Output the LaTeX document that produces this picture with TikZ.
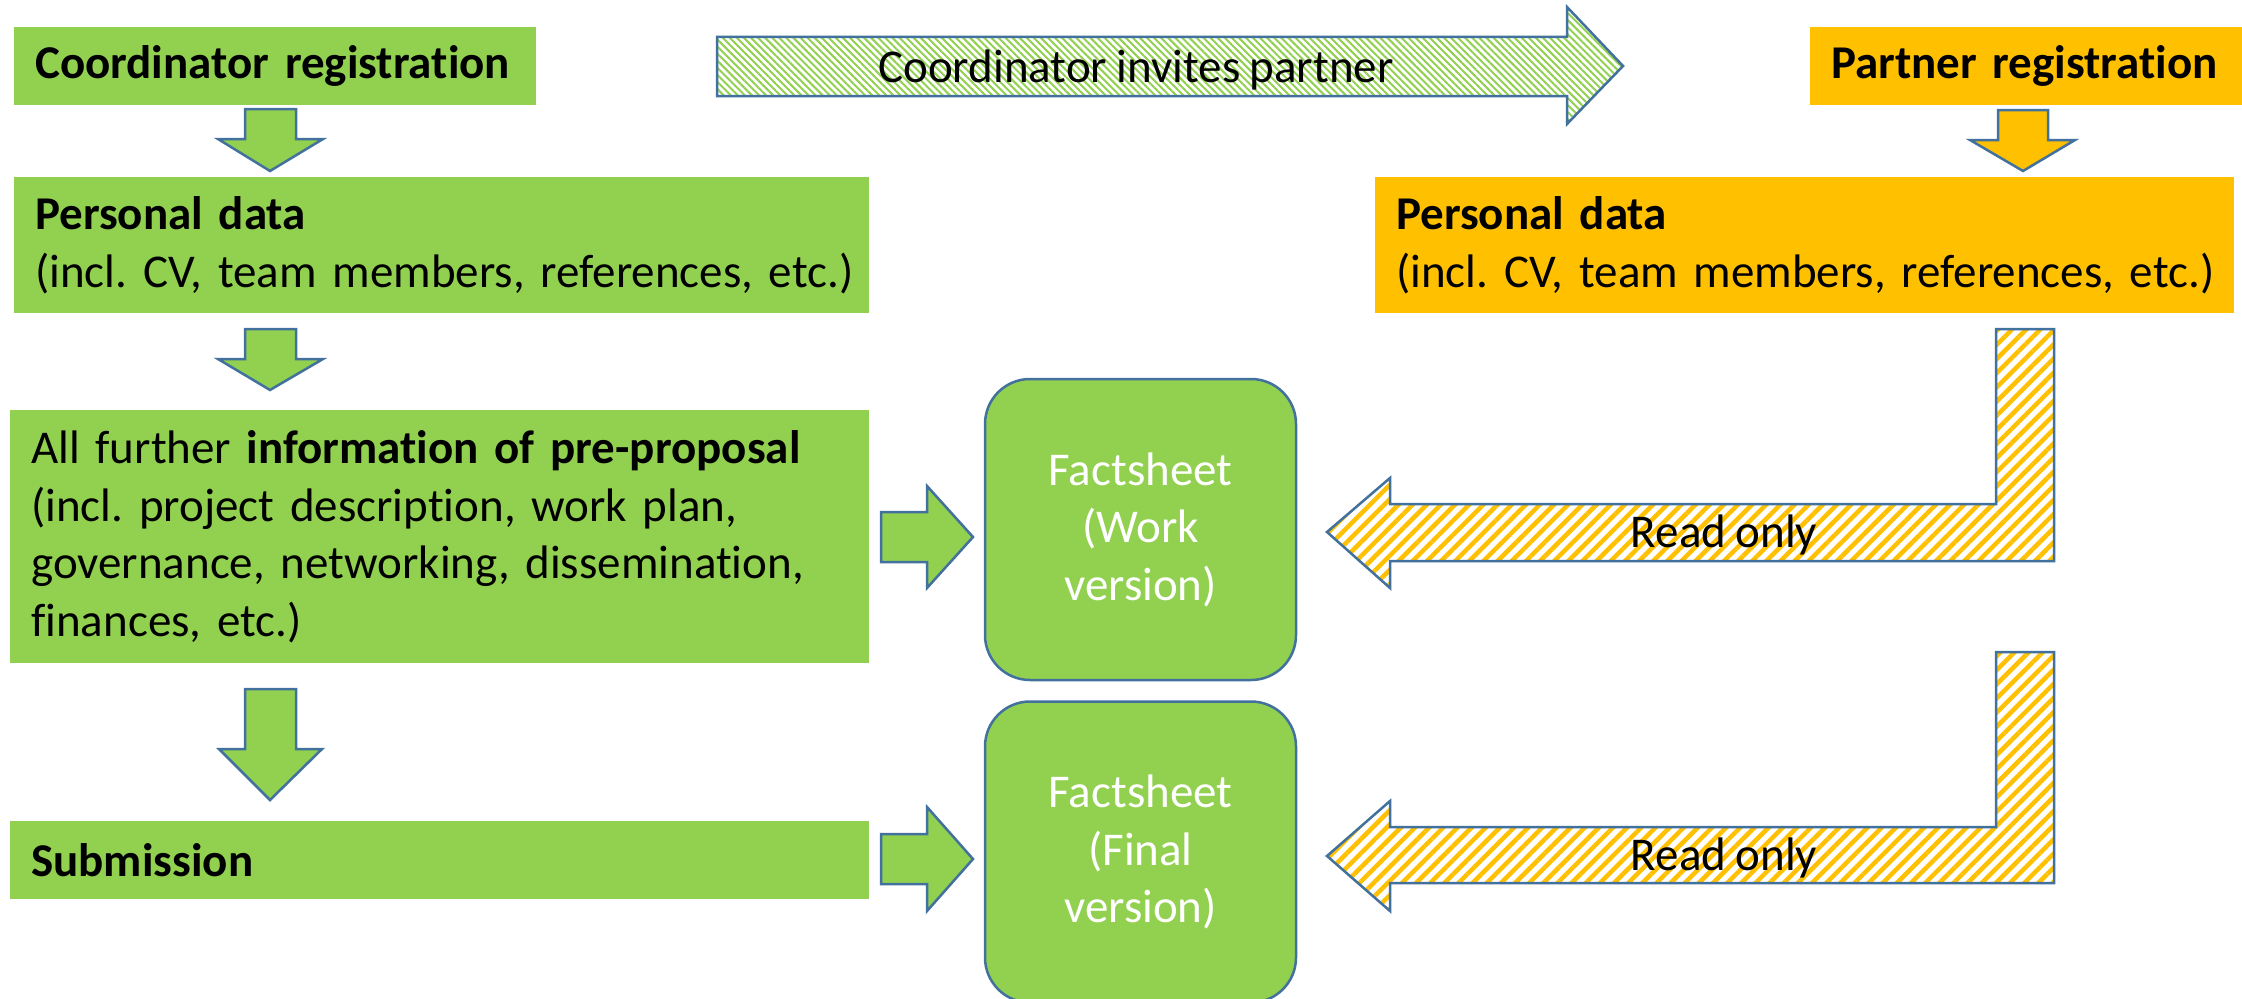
\documentclass[tikz,border=0pt]{standalone}
\usepackage{fontspec}
\setmainfont{Carlito}[Ligatures=NoCommon]
\frenchspacing
\usetikzlibrary{patterns.meta}
\definecolor{pgreen}{HTML}{92D050}
\definecolor{porange}{HTML}{FFC000}
\definecolor{pblue}{HTML}{41719C}
\newcommand{\bigtxt}{\fontsize{47}{57.5}\selectfont\frenchspacing\spaceskip=0.2em\relax}
\tikzset{
  bigfont/.style={font=\bigtxt},
  gbox/.style={bigfont, fill=pgreen, anchor=north west, inner xsep=21pt, inner ysep=0pt, align=left, text=black},
  obox/.style={gbox, fill=porange},
  fsbox/.style={bigfont, fill=pgreen, draw=pblue, line width=2.5pt, rounded corners=45pt, minimum width=311pt, minimum height=301pt, align=center, text=white, inner sep=0pt},
  garrow/.style={fill=pgreen, draw=pblue, line width=2.5pt, line join=miter},
  oarrow/.style={fill=porange, draw=pblue, line width=2.5pt, line join=miter},
  ghatch/.style={draw=pblue, line width=2.5pt, line join=miter, pattern={Lines[angle=-45,distance=5pt,line width=2pt]}, pattern color=pgreen},
  ohatch/.style={draw=pblue, line width=2.5pt, line join=miter, pattern={Lines[angle=45,distance=10pt,line width=4.5pt]}, pattern color=porange},
  lbl/.style={bigfont, anchor=base, inner sep=0pt}
}
\begin{document}
\begin{tikzpicture}[x=1pt,y=-1pt]
\useasboundingbox[fill=white] (0,0) rectangle (2242,998);

% left column boxes
\node[gbox, text width=480pt, minimum height=78pt] (coordReg) at (14,27) {\mbox{\textbf{Coordinator registration}}};
\node[gbox, text width=813pt, minimum height=136pt] (pdC) at (14,177) {\mbox{\textbf{Personal data}}\\\mbox{(incl. CV, team members, references, etc.)}};
\node[gbox, text width=817pt, minimum height=253pt] (info) at (10,410) {\mbox{All further \textbf{information of pre-proposal}}\\\mbox{(incl. project description, work plan,}\\\mbox{governance, networking, dissemination,}\\\mbox{finances, etc.)}};
\node[gbox, text width=817pt, minimum height=78pt] (subm) at (10,821) {\mbox{\textbf{Submission}}};

% right column boxes
\node[obox, text width=390pt, minimum height=78pt] (partReg) at (1810,27) {\mbox{\textbf{Partner registration}}};
\node[obox, text width=817pt, minimum height=136pt] (pdP) at (1375,177) {\mbox{\textbf{Personal data}}\\\mbox{(incl. CV, team members, references, etc.)}};

% factsheets
\node[fsbox] (fsWork) at (1140.5,529.5) {Factsheet\\(Work\\version)};
\node[fsbox] (fsFinal) at (1140.5,852) {Factsheet\\(Final\\version)};

% down arrows (left)
\draw[garrow] (245,109) -- (296,109) -- (296,139) -- (323,139) -- (270,171) -- (218,139) -- (245,139) -- cycle;
\draw[garrow] (245,329) -- (296,329) -- (296,359) -- (323,359) -- (270,390) -- (218,359) -- (245,359) -- cycle;
\draw[garrow] (245,689) -- (296,689) -- (296,749) -- (322,749) -- (270,800) -- (219,749) -- (245,749) -- cycle;
% down arrow (partner)
\draw[oarrow] (1998,110) -- (2048,110) -- (2048,140) -- (2075,140) -- (2023,171) -- (1970,140) -- (1998,140) -- cycle;

% right arrows into factsheets
\draw[garrow] (881,512) -- (927,512) -- (927,486) -- (973,537) -- (927,588) -- (927,562) -- (881,562) -- cycle;
\draw[garrow] (881,834) -- (927,834) -- (927,807) -- (973,859) -- (927,911) -- (927,884) -- (881,884) -- cycle;

% coordinator invites partner
\draw[ghatch] (717,37) -- (1567,37) -- (1567,7) -- (1623,66) -- (1567,124) -- (1567,96) -- (717,96) -- cycle;
\node[lbl] (invite) at (1136,82) {Coordinator invites partner};

% read only L arrows
\draw[ohatch] (1327,532) -- (1390,478) -- (1390,504) -- (1996,504) -- (1996,329) -- (2054,329) -- (2054,561) -- (1390,561) -- (1390,588) -- cycle;
\node[lbl] (ro1) at (1724,547) {Read only};
\draw[ohatch] (1327,856) -- (1390,801) -- (1390,827) -- (1996,827) -- (1996,652) -- (2054,652) -- (2054,883) -- (1390,883) -- (1390,911) -- cycle;
\node[lbl] (ro2) at (1724,870) {Read only};
\end{tikzpicture}
\end{document}
